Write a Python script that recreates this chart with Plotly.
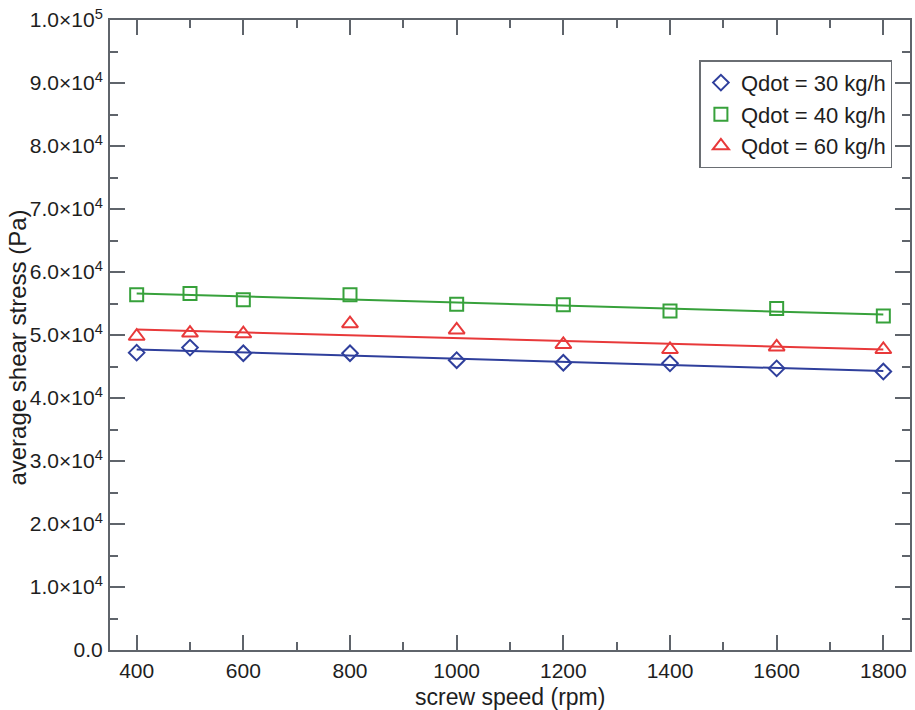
import numpy as np
import plotly.graph_objects as go

screw_speed = [400, 500, 600, 800, 1000, 1200, 1400, 1600, 1800]
stress_30 = [4.72e4, 4.80e4, 4.71e4, 4.71e4, 4.60e4, 4.56e4, 4.55e4, 4.47e4, 4.42e4]
stress_40 = [5.64e4, 5.66e4, 5.56e4, 5.64e4, 5.49e4, 5.48e4, 5.38e4, 5.42e4, 5.30e4]
stress_60 = [4.98e4, 5.03e4, 5.02e4, 5.18e4, 5.08e4, 4.85e4, 4.77e4, 4.81e4, 4.77e4]

series_names = ["Qdot = 30 kg/h", "Qdot = 40 kg/h", "Qdot = 60 kg/h"]
y_tick_vals = [0, 1e4, 2e4, 3e4, 4e4, 5e4, 6e4, 7e4, 8e4, 9e4, 1e5]
y_tick_text = ["0.0", "1.0×10<sup>4</sup>", "2.0×10<sup>4</sup>", "3.0×10<sup>4</sup>",
               "4.0×10<sup>4</sup>", "5.0×10<sup>4</sup>", "6.0×10<sup>4</sup>",
               "7.0×10<sup>4</sup>", "8.0×10<sup>4</sup>", "9.0×10<sup>4</sup>",
               "1.0×10<sup>5</sup>"]
x_tick_vals = [400, 600, 800, 1000, 1200, 1400, 1600, 1800]
x_title = "screw speed (rpm)"
y_title = "average shear stress (Pa)"

colors = ["#2f3f9c", "#37a13b", "#e8393a"]
symbols = ["diamond-open", "square-open", "triangle-up-open"]
sizes = [12, 13, 14]

fig = go.Figure()
x_arr = np.array(screw_speed, dtype=float)
for ys, name, c, sym, sz in zip([stress_30, stress_40, stress_60], series_names, colors, symbols, sizes):
    # linear trend line fitted to the data points
    k, b = np.polyfit(x_arr, np.array(ys), 1)
    xf = np.array([x_arr.min(), x_arr.max()])
    fig.add_trace(go.Scatter(x=xf, y=k * xf + b, mode="lines",
                             line=dict(color=c, width=2), showlegend=False,
                             hoverinfo="skip"))
for ys, name, c, sym, sz in zip([stress_30, stress_40, stress_60], series_names, colors, symbols, sizes):
    fig.add_trace(go.Scatter(x=screw_speed, y=ys, mode="markers", name=name,
                             marker=dict(symbol=sym, size=sz, color=c,
                                         line=dict(color=c, width=2))))

axis_color = "#5f646b"
font_family = "Liberation Sans, Arial, sans-serif"
text_color = "#1e1e1e"

fig.update_layout(
    width=915, height=710,
    margin=dict(l=110, r=5, t=20, b=60, autoexpand=False),
    paper_bgcolor="white", plot_bgcolor="white",
    font=dict(family=font_family, size=21, color=text_color),
    showlegend=True,
    legend=dict(x=0.978, y=0.936, xanchor="right", yanchor="top",
                bordercolor="#6a6e73", borderwidth=1.5, bgcolor="white",
                font=dict(size=22, family=font_family, color=text_color)),
    annotations=[
        dict(text=x_title, xref="paper", yref="paper", x=0.5, y=-0.075,
             xanchor="center", yanchor="middle", showarrow=False,
             font=dict(size=23, family=font_family, color=text_color)),
        dict(text=y_title, xref="paper", yref="paper", x=-0.115, y=0.48,
             xanchor="center", yanchor="middle", textangle=-90, showarrow=False,
             font=dict(size=24, family=font_family, color=text_color)),
    ],
)
fig.update_xaxes(
    range=[350, 1850], tickvals=x_tick_vals, ticks="inside", ticklen=15,
    tickwidth=2, tickcolor=axis_color, showline=True, linecolor=axis_color,
    linewidth=2, mirror="ticks", showgrid=False, zeroline=False,
    automargin=False, ticklabeloverflow="allow",
    tickfont=dict(size=21), ticklabelstandoff=1,
    minor=dict(tickvals=[500, 700, 900, 1100, 1300, 1500, 1700], ticks="inside",
               ticklen=8, tickwidth=2, tickcolor=axis_color),
)
fig.update_yaxes(
    range=[0, 1e5], tickvals=y_tick_vals, ticktext=y_tick_text, ticks="inside",
    ticklen=15, tickwidth=2, tickcolor=axis_color, showline=True,
    linecolor=axis_color, linewidth=2, mirror="ticks", showgrid=False,
    zeroline=False, automargin=False, ticklabeloverflow="allow",
    tickfont=dict(size=21), ticklabelstandoff=1,
    minor=dict(tickvals=[5e3 + 1e4 * i for i in range(10)], ticks="inside",
               ticklen=8, tickwidth=2, tickcolor=axis_color),
)

fig.write_html("out.html", config={"displayModeBar": False},
               post_script="document.body.style.margin='0';")
